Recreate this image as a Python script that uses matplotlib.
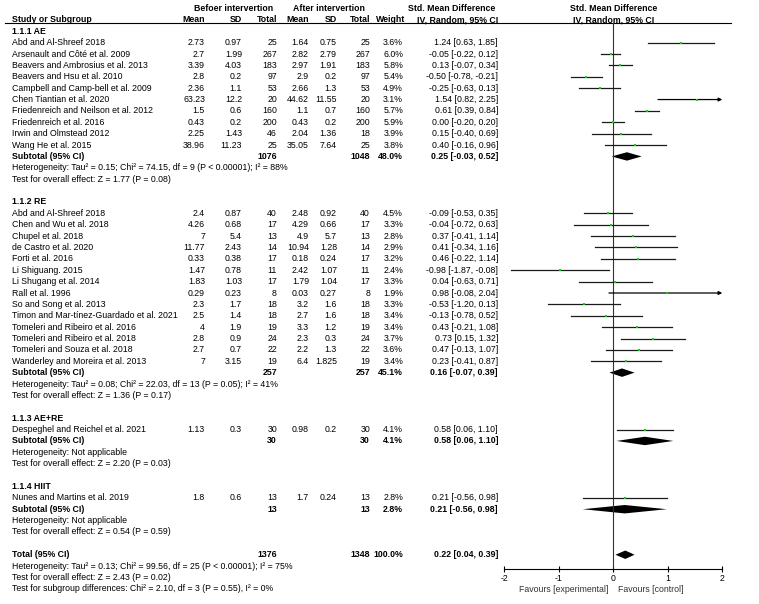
"""Forest plot: exercise intervention subgroups, std. mean difference."""
import matplotlib
matplotlib.use("Agg")
import matplotlib.pyplot as plt

plt.rcParams["font.family"] = ["Liberation Sans", "DejaVu Sans"]
FS = 6.3

group_titles = ["1.1.1 AE", "1.1.2 RE", "1.1.3 AE+RE", "1.1.4 HIIT"]
group_sizes = [10, 14, 1, 1]

studies = [
    "Abd and Al-Shreef 2018", "Arsenault and Côté et al. 2009",
    "Beavers and Ambrosius et al. 2013", "Beavers and Hsu et al. 2010",
    "Campbell and Camp-bell et al. 2009", "Chen Tiantian et al. 2020",
    "Friedenreich and Neilson et al. 2012", "Friedenreich et al. 2016",
    "Irwin and Olmstead 2012", "Wang He et al. 2015",
    "Abd and Al-Shreef 2018", "Chen and Wu et al. 2018", "Chupel et al. 2018",
    "de Castro et al. 2020", "Forti et al. 2016", "Li Shiguang. 2015",
    "Li Shugang et al. 2014", "Rall et al. 1996", "So and Song et al. 2013",
    "Timon and Mar-tínez-Guardado et al. 2021", "Tomeleri and Ribeiro et al. 2016",
    "Tomeleri and Ribeiro et al. 2018", "Tomeleri and Souza et al. 2018",
    "Wanderley and Moreira et al. 2013",
    "Despeghel and Reichel et al. 2021",
    "Nunes and Martins et al. 2019",
]
mean_before = [2.73, 2.7, 3.39, 2.8, 2.36, 63.23, 1.5, 0.43, 2.25, 38.96,
               2.4, 4.26, 7, 11.77, 0.33, 1.47, 1.83, 0.29, 2.3, 2.5, 4, 2.8, 2.7, 7,
               1.13, 1.8]
sd_before = [0.97, 1.99, 4.03, 0.2, 1.1, 12.2, 0.6, 0.2, 1.43, 11.23,
             0.87, 0.68, 5.4, 2.43, 0.38, 0.78, 1.03, 0.23, 1.7, 1.4, 1.9, 0.9, 0.7, 3.15,
             0.3, 0.6]
n_before = [25, 267, 183, 97, 53, 20, 160, 200, 46, 25,
            40, 17, 13, 14, 17, 11, 17, 8, 18, 18, 19, 24, 22, 19,
            30, 13]
mean_after = [1.64, 2.82, 2.97, 2.9, 2.66, 44.62, 1.1, 0.43, 2.04, 35.05,
              2.48, 4.29, 4.9, 10.94, 0.18, 2.42, 1.79, 0.03, 3.2, 2.7, 3.3, 2.3, 2.2, 6.4,
              0.98, 1.7]
sd_after = [0.75, 2.79, 1.91, 0.2, 1.3, 11.55, 0.7, 0.2, 1.36, 7.64,
            0.92, 0.66, 5.7, 1.28, 0.24, 1.07, 1.04, 0.27, 1.6, 1.6, 1.2, 0.3, 1.3, 1.825,
            0.2, 0.24]
n_after = [25, 267, 183, 97, 53, 20, 160, 200, 18, 25,
           40, 17, 13, 14, 17, 11, 17, 8, 18, 18, 19, 24, 22, 19,
           30, 13]
weights = [3.6, 6.0, 5.8, 5.4, 4.9, 3.1, 5.7, 5.9, 3.9, 3.8,
           4.5, 3.3, 2.8, 2.9, 3.2, 2.4, 3.3, 1.9, 3.3, 3.4, 3.4, 3.7, 3.6, 3.4,
           4.1, 2.8]
smd = [1.24, -0.05, 0.13, -0.50, -0.25, 1.54, 0.61, 0.00, 0.15, 0.40,
       -0.09, -0.04, 0.37, 0.41, 0.46, -0.98, 0.04, 0.98, -0.53, -0.13, 0.43, 0.73, 0.47, 0.23,
       0.58, 0.21]
ci_low = [0.63, -0.22, -0.07, -0.78, -0.63, 0.82, 0.39, -0.20, -0.40, -0.16,
          -0.53, -0.72, -0.41, -0.34, -0.22, -1.87, -0.63, -0.08, -1.20, -0.78, -0.21, 0.15, -0.13, -0.41,
          0.06, -0.56]
ci_high = [1.85, 0.12, 0.34, -0.21, 0.13, 2.25, 0.84, 0.20, 0.69, 0.96,
           0.35, 0.63, 1.14, 1.16, 1.14, -0.08, 0.71, 2.04, 0.13, 0.52, 1.08, 1.32, 1.07, 0.87,
           1.10, 0.98]

sub_n_before = [1076, 257, 30, 13]
sub_n_after = [1048, 257, 30, 13]
sub_weight = [48.0, 45.1, 4.1, 2.8]
sub_smd = [0.25, 0.16, 0.58, 0.21]
sub_low = [-0.03, -0.07, 0.06, -0.56]
sub_high = [0.52, 0.39, 1.10, 0.98]
sub_het = [
    "Heterogeneity: Tau² = 0.15; Chi² = 74.15, df = 9 (P < 0.00001); I² = 88%",
    "Heterogeneity: Tau² = 0.08; Chi² = 22.03, df = 13 (P = 0.05); I² = 41%",
    "Heterogeneity: Not applicable",
    "Heterogeneity: Not applicable",
]
sub_test = [
    "Test for overall effect: Z = 1.77 (P = 0.08)",
    "Test for overall effect: Z = 1.36 (P = 0.17)",
    "Test for overall effect: Z = 2.20 (P = 0.03)",
    "Test for overall effect: Z = 0.54 (P = 0.59)",
]

total_n_before = 1376
total_n_after = 1348
total_weight = 100.0
total_smd, total_low, total_high = 0.22, 0.04, 0.39
total_notes = [
    "Heterogeneity: Tau² = 0.13; Chi² = 99.56, df = 25 (P < 0.00001); I² = 75%",
    "Test for overall effect: Z = 2.43 (P = 0.02)",
    "Test for subgroup differences: Chi² = 2.10, df = 3 (P = 0.55), I² = 0%",
]

# layout (pixels across, rows down)
W, H = 759, 604
ROW0, PITCH = 8.5, 11.38
X_NAME = 12
X_M1, X_SD1, X_N1 = 205, 242, 277
X_M2, X_SD2, X_N2 = 309, 337, 370
X_W, X_CI = 403, 498
PLOT_L, PLOT_R = 504.3, 722.3
PLOT_TOP, PLOT_BOT = 23, 569


def row_of(px):
    return (px - ROW0) / PITCH


fig = plt.figure(figsize=(W / 100, H / 100), dpi=100)
tax = fig.add_axes([0, 0, 1, 1])
tax.set_xlim(0, W)
tax.set_ylim(row_of(H), row_of(0))
tax.axis("off")

fax = fig.add_axes([PLOT_L / W, (H - PLOT_BOT) / H, (PLOT_R - PLOT_L) / W,
                    (PLOT_BOT - PLOT_TOP) / H])
fax.set_xlim(-2, 2)
fax.set_ylim(row_of(PLOT_BOT), row_of(PLOT_TOP))
fax.patch.set_alpha(0)
for side in ("left", "right", "top"):
    fax.spines[side].set_visible(False)
fax.spines["bottom"].set_linewidth(0.8)
fax.set_yticks([])
fax.set_xticks([-2, -1, 0, 1, 2])
fax.set_xticklabels(["-2", "-1", "0", "1", "2"])
fax.tick_params(axis="x", direction="inout", length=5, width=0.8, labelsize=FS, pad=1)
fax.axvline(0, color="#333333", linewidth=0.8)


def txt(x, r, s, ha="left", bold=False, color="black"):
    tax.text(x, r, s, ha=ha, va="center", fontsize=FS,
             fontweight="bold" if bold else "normal", color=color)


def diamond(r, est, lo, hi, h=0.37):
    fax.fill([lo, est, hi, est], [r, r - h, r, r + h], color="black", linewidth=0)


def num(v):
    return f"{v:g}"


# header
txt(234, 0, "Befoer intervertion", ha="center", bold=True)
txt(329, 0, "After intervertion", ha="center", bold=True)
txt(452, 0, "Std. Mean Difference", ha="center", bold=True)
txt(614, 0, "Std. Mean Difference", ha="center", bold=True)
txt(X_NAME, 1, "Study or Subgroup", bold=True)
for x, s in [(X_M1, "Mean"), (X_SD1, "SD"), (X_N1, "Total"), (X_M2, "Mean"),
             (X_SD2, "SD"), (X_N2, "Total"), (X_W + 2, "Weight"), (X_CI, "IV, Random, 95% CI")]:
    txt(x, 1, s, ha="right", bold=True)
txt(614, 1, "IV, Random, 95% CI", ha="center", bold=True)
tax.plot([5, 731], [row_of(PLOT_TOP)] * 2, color="black", linewidth=0.8)

row = 2
i = 0
for g, title in enumerate(group_titles):
    txt(X_NAME, row, title, bold=True)
    row += 1
    for _ in range(group_sizes[g]):
        txt(X_NAME, row, studies[i])
        txt(X_M1, row, num(mean_before[i]), ha="right")
        txt(X_SD1, row, num(sd_before[i]), ha="right")
        txt(X_N1, row, num(n_before[i]), ha="right")
        txt(X_M2, row, num(mean_after[i]), ha="right")
        txt(X_SD2, row, num(sd_after[i]), ha="right")
        txt(X_N2, row, num(n_after[i]), ha="right")
        txt(X_W, row, f"{weights[i]:.1f}%", ha="right")
        txt(X_CI, row, f"{smd[i]:.2f} [{ci_low[i]:.2f}, {ci_high[i]:.2f}]", ha="right")
        if ci_high[i] > 2:
            fax.annotate("", xy=(2, row), xytext=(ci_low[i], row),
                         arrowprops=dict(arrowstyle="-|>", color="black", lw=0.9,
                                         mutation_scale=5, shrinkA=0, shrinkB=0))
        else:
            fax.plot([ci_low[i], ci_high[i]], [row, row], color="#1a1a1a", linewidth=0.9)
        fax.plot(smd[i], row, marker="s", markersize=2.0, color="#00e000",
                 markeredgewidth=0, zorder=3)
        row += 1
        i += 1
    txt(X_NAME, row, "Subtotal (95% CI)", bold=True)
    txt(X_N1, row, num(sub_n_before[g]), ha="right", bold=True)
    txt(X_N2, row, num(sub_n_after[g]), ha="right", bold=True)
    txt(X_W, row, f"{sub_weight[g]:.1f}%", ha="right", bold=True)
    txt(X_CI, row, f"{sub_smd[g]:.2f} [{sub_low[g]:.2f}, {sub_high[g]:.2f}]",
        ha="right", bold=True)
    diamond(row, sub_smd[g], sub_low[g], sub_high[g])
    txt(X_NAME, row + 1, sub_het[g])
    txt(X_NAME, row + 2, sub_test[g])
    row += 4

txt(X_NAME, row, "Total (95% CI)", bold=True)
txt(X_N1, row, num(total_n_before), ha="right", bold=True)
txt(X_N2, row, num(total_n_after), ha="right", bold=True)
txt(X_W, row, f"{total_weight:.1f}%", ha="right", bold=True)
txt(X_CI, row, f"{total_smd:.2f} [{total_low:.2f}, {total_high:.2f}]", ha="right", bold=True)
diamond(row, total_smd, total_low, total_high)
for k, note in enumerate(total_notes):
    txt(X_NAME, row + 1 + k, note)

txt(608, row_of(590), "Favours [experimental]", ha="right", color="#333333")
txt(618, row_of(590), "Favours [control]", color="#333333")

fig.savefig("out.png", dpi=100)
